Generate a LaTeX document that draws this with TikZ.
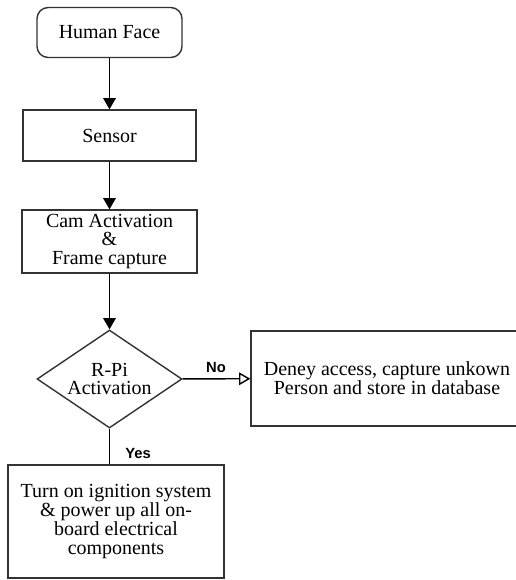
\documentclass[tikz,border=0pt]{standalone}
\usepackage{fontspec}
\setmainfont{Liberation Serif}
\newfontfamily\labelfont{Liberation Sans}
\usepackage{tikz}
\usepackage{xcolor}
\usetikzlibrary{arrows.meta, positioning, shapes.geometric}

\begin{document}
\begin{tikzpicture}[
  x=0.025cm, y=-0.025cm,
  every node/.style={font=\fontsize{14.2}{13.4}\selectfont, align=center, inner sep=0pt},
  box/.style={draw=black!80, line width=1pt, rectangle},
  startbox/.style={box, rounded corners=8pt},
  decision/.style={draw=black!80, line width=1pt, diamond, aspect=1.48},
  arr/.style={-{Triangle[length=8pt, width=9pt]}, line width=1pt},
  openarr/.style={-{Triangle[open, length=8pt, width=9pt]}, line width=1pt},
  lbl/.style={font=\labelfont\bfseries\fontsize{10.5}{12}\selectfont}
]
\useasboundingbox (0,0) rectangle (515,580);
\node[startbox, minimum width=145*0.025cm, minimum height=50*0.025cm] (face) at (109.5,32.5) {Human Face};
\node[box, minimum width=173*0.025cm, minimum height=51*0.025cm] (sensor) at (109.5,135.5) {Sensor};
\node[box, minimum width=175*0.025cm, minimum height=63*0.025cm] (cam) at (109.5,241.5) {Cam Activation\\\&\\Frame capture};
\node[decision, minimum width=145*0.025cm, minimum height=98*0.025cm] (rpi) at (109.5,379) {R-Pi\\Activation};
\node[box, minimum width=272*0.025cm, minimum height=95*0.025cm] (deny) at (387,378.5) {Deney access, capture unkown\\Person and store in database};
\node[box, minimum width=216*0.025cm, minimum height=113*0.025cm] (ign) at (116,521.5) {Turn on ignition system\\\& power up all on-\\board electrical\\components};
\draw[arr] (face) -- (sensor);
\draw[arr] (sensor) -- (cam);
\draw[arr] (cam) -- (rpi);
\draw[openarr] (rpi) -- (deny);
\draw[line width=1pt] (rpi) -- (rpi |- ign.north);
\node[lbl] (no) at (216,367) {No};
\node[lbl] (yes) at (138,453) {Yes};
\end{tikzpicture}
\end{document}
